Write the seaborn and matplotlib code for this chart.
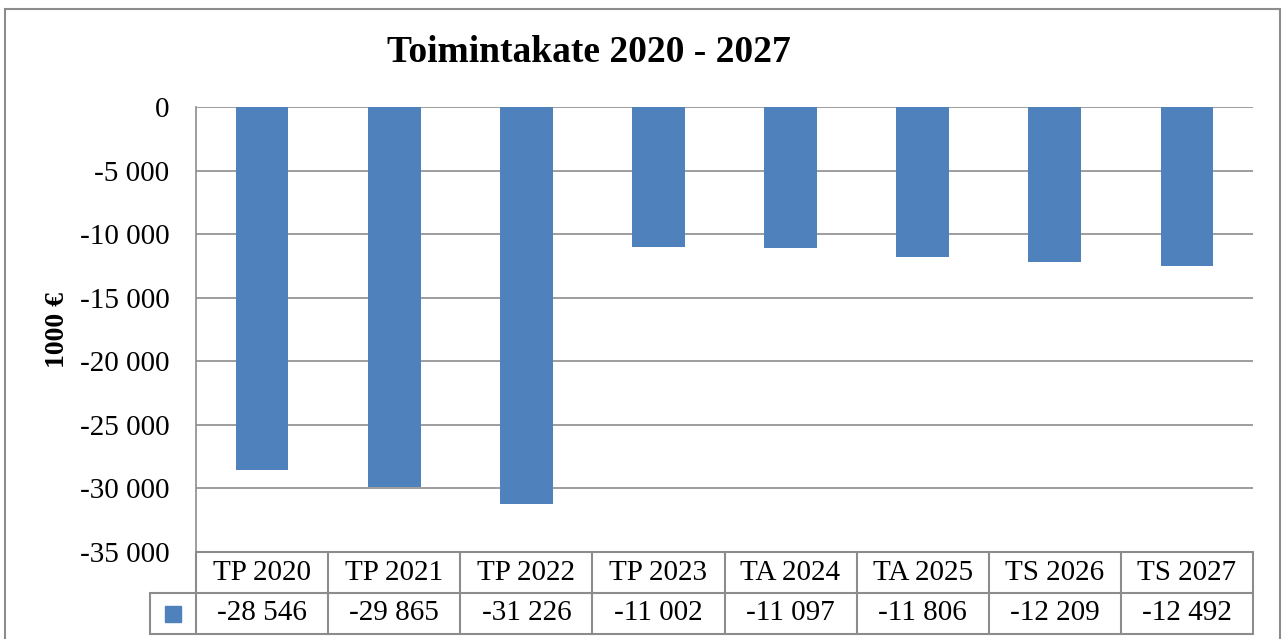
import matplotlib
matplotlib.use("Agg")
import matplotlib.pyplot as plt
from matplotlib.patches import Rectangle
from matplotlib.ticker import FuncFormatter
import seaborn as sns
import pandas as pd

# data
categories = ["TP 2020", "TP 2021", "TP 2022", "TP 2023", "TA 2024", "TA 2025", "TS 2026", "TS 2027"]
values = [-28546, -29865, -31226, -11002, -11097, -11806, -12209, -12492]
title = "Toimintakate 2020 - 2027"
ylabel = "1000 €"

bar_color = "#4F81BD"
grid_color = "#8C8C8C"


def fmt_thousands(v):
    s = f"{abs(int(round(v))):,}".replace(",", " ")
    return ("-" if v < 0 else "") + s


sns.set_style("white")
plt.rcParams["font.family"] = ["Liberation Serif", "DejaVu Serif"]
plt.rcParams["text.color"] = "black"
plt.rcParams["ytick.color"] = "black"

df = pd.DataFrame({"cat": categories, "val": values})

fig = plt.figure(figsize=(12.85, 6.39), dpi=100)
ax = fig.add_axes([196 / 1285, 1 - 552 / 639, (1253 - 196) / 1285, (552 - 107) / 639])

sns.barplot(data=df, x="cat", y="val", color=bar_color, width=0.4,
            saturation=1, linewidth=0, edgecolor="none", ax=ax, zorder=3)

ax.set_ylim(-35000, 0)
ax.set_xlim(-0.5, len(categories) - 0.5)
ax.set_yticks(range(-35000, 1, 5000))
ax.yaxis.set_major_formatter(FuncFormatter(lambda v, p: fmt_thousands(v)))
ax.tick_params(axis="y", labelsize=21, length=0, labelcolor="black", pad=19)
ax.tick_params(axis="x", bottom=False, labelbottom=False)
ax.set_xlabel("")
ax.set_ylabel("")
ax.yaxis.grid(True, color=grid_color, linewidth=1.2, zorder=0)
for side in ["top", "right", "bottom"]:
    ax.spines[side].set_visible(False)
ax.spines["left"].set_color(grid_color)
ax.spines["left"].set_linewidth(1.2)

# data table under the plot
trans = ax.get_xaxis_transform()
row_h = 41 / 445
top, mid, bot = 0, -row_h, -2 * row_h
leg_left = -0.5 - 46 / 132
line_kw = dict(color=grid_color, linewidth=1.5, transform=trans, clip_on=False)
ax.plot([-0.5, len(categories) - 0.5], [top, top], **line_kw)
ax.plot([leg_left, len(categories) - 0.5], [mid, mid], **line_kw)
ax.plot([leg_left, len(categories) - 0.5], [bot, bot], **line_kw)
ax.plot([leg_left, leg_left], [mid, bot], **line_kw)
for i in range(len(categories) + 1):
    ax.plot([i - 0.5, i - 0.5], [top, bot], **line_kw)
for i, (c, v) in enumerate(zip(categories, values)):
    ax.text(i, (top + mid) / 2, c, transform=trans, ha="center", va="center",
            fontsize=21, color="black", clip_on=False)
    ax.text(i, (mid + bot) / 2, fmt_thousands(v), transform=trans, ha="center",
            va="center", fontsize=21, color="black", clip_on=False)
ax.plot([(leg_left - 0.5) / 2], [(mid + bot) / 2], marker="s", markersize=11,
        color=bar_color, transform=trans, clip_on=False, linestyle="none")

fig.text(589 / 1285, 1 - 52 / 639, title, ha="center", va="center",
         fontsize=27, fontweight="bold", color="black")
fig.text(57 / 1285, 1 - 330 / 639, ylabel, ha="center", va="center",
         rotation=90, fontsize=20, fontweight="bold", color="black")

fig.patches.append(Rectangle((5 / 1285, -0.02), 1275 / 1285, 1 - 9 / 639 + 0.02,
                             transform=fig.transFigure, fill=False,
                             edgecolor=grid_color, linewidth=1.5))

fig.savefig("out.png", dpi=100)
